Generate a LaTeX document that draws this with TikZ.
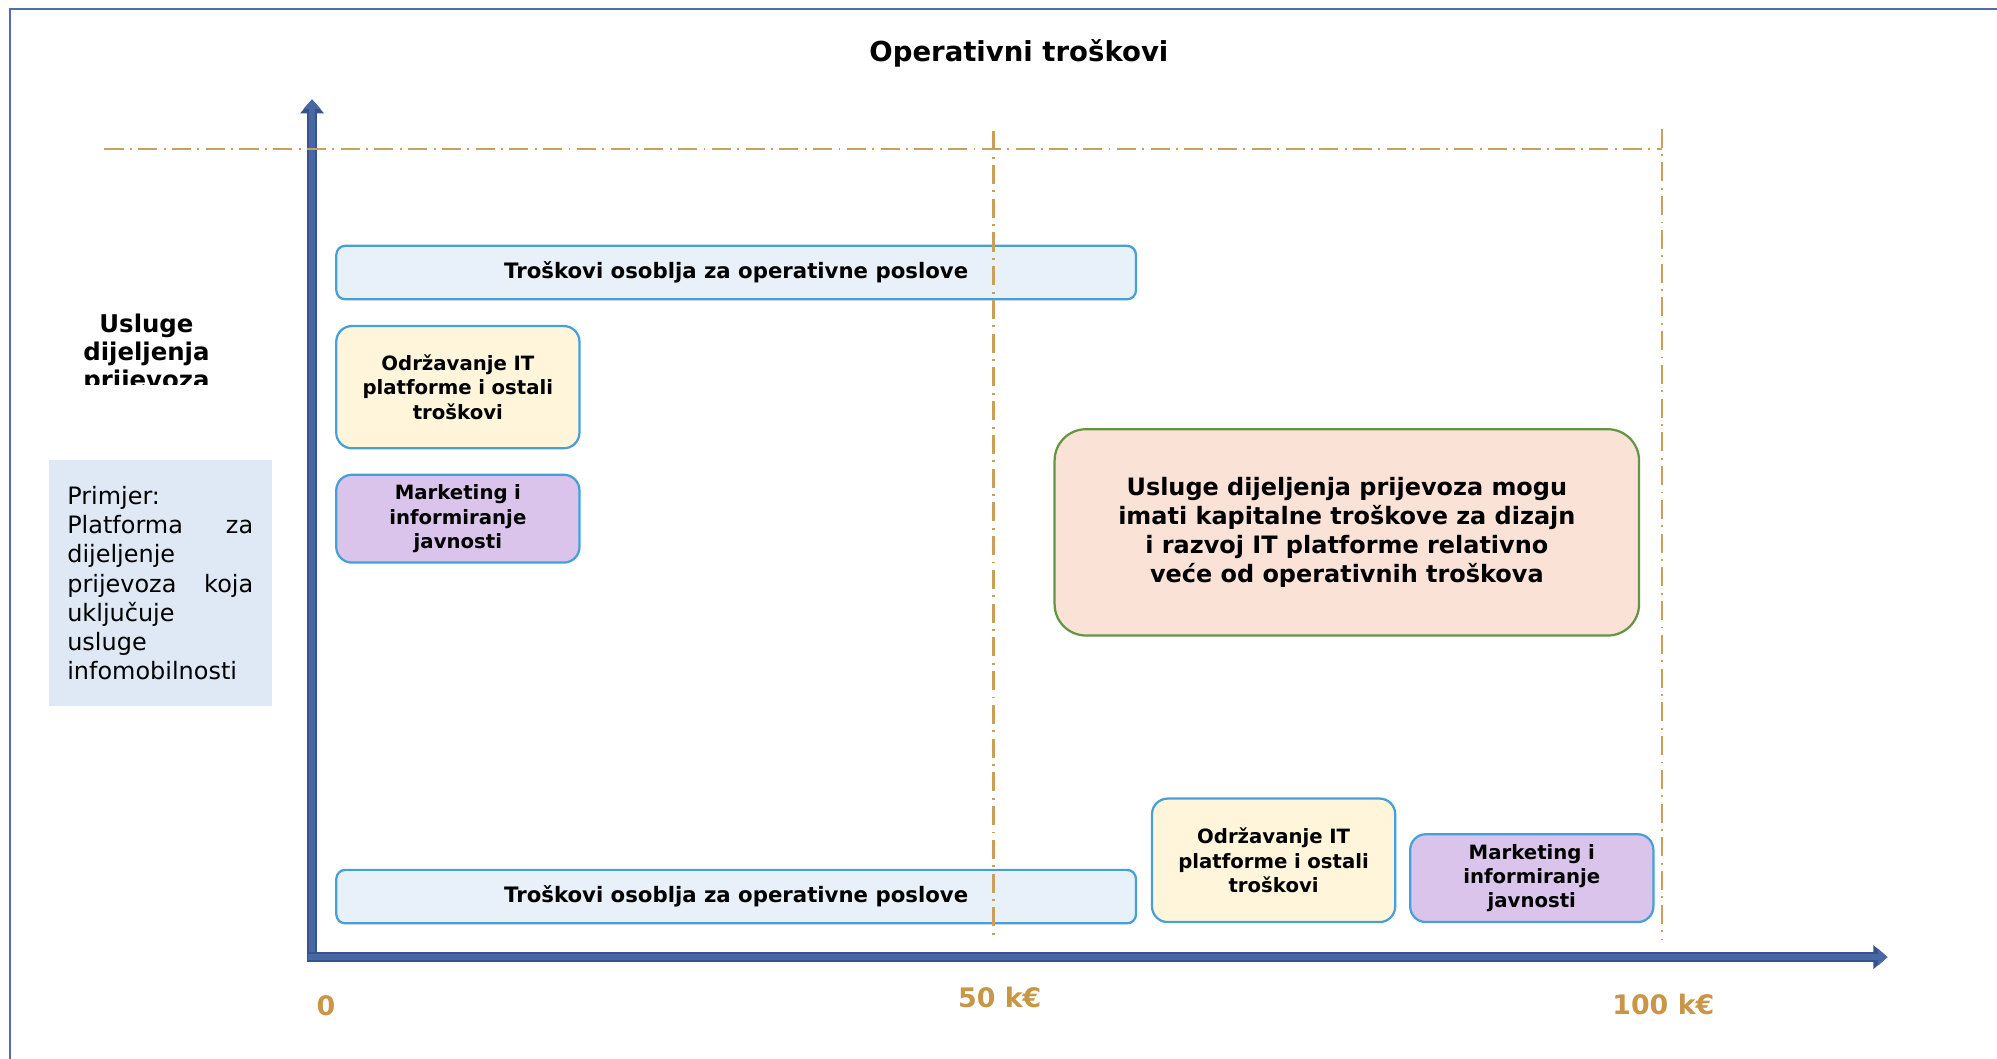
\documentclass[tikz,border=0pt]{standalone}
\usepackage{fontspec}
\setmainfont{DejaVu Sans}
\usepackage{xcolor}
\usepackage{tikz}
\usetikzlibrary{positioning,shapes,arrows.meta}
\definecolor{axisdark}{RGB}{55,82,140}
\definecolor{axisfill}{RGB}{72,104,165}
\definecolor{framecol}{RGB}{80,110,175}
\definecolor{guidetan}{RGB}{201,160,90}
\definecolor{boxblue}{RGB}{70,160,215}
\definecolor{barfill}{RGB}{232,240,250}
\definecolor{creamfill}{RGB}{255,245,218}
\definecolor{mauvefill}{RGB}{218,196,236}
\definecolor{peachfill}{RGB}{250,227,214}
\definecolor{leafgreen}{RGB}{100,150,65}
\definecolor{examplefill}{RGB}{222,233,245}
\definecolor{goldlabel}{RGB}{200,150,70}

\begin{document}
\begin{tikzpicture}[x=0.02cm, y=-0.02cm]
    \tikzstyle{costbar} = [rectangle, rounded corners=4pt, draw=boxblue, line width=1pt, fill=barfill, minimum width=12.56cm, minimum height=0.84cm, text centered, font=\fontsize{9.5}{11}\selectfont\bfseries]
    \tikzstyle{costbox} = [rectangle, rounded corners=7pt, draw=boxblue, line width=1pt, minimum width=3.82cm, text width=3.5cm, align=center, font=\fontsize{8.8}{10.8}\selectfont\bfseries]
    \tikzstyle{notebox} = [rectangle, rounded corners=14pt, draw=leafgreen, line width=1pt, fill=peachfill, minimum width=9.18cm, minimum height=3.24cm, align=center, font=\fontsize{10.7}{13.1}\selectfont\bfseries]
    \tikzstyle{examplebox} = [rectangle, fill=examplefill, minimum width=3.5cm, minimum height=3.86cm, text width=2.92cm, inner xsep=0.24cm, align=left, font=\fontsize{10.7}{13.1}\selectfont]
    \tikzstyle{ticklabel} = [text=goldlabel, font=\fontsize{12}{14}\selectfont\bfseries]
    \tikzstyle{guide} = [draw=guidetan, line width=1pt, dash pattern=on 0.3cm off 0.1cm on 0.03cm off 0.1cm]
    \tikzstyle{axis} = [draw=axisdark, line width=0.15cm, -{Triangle[width=0.36cm,length=0.22cm]}, postaction={draw=axisfill, line width=0.09cm, -{Triangle[width=0.26cm,length=0.15cm]}}]

    \useasboundingbox (0,0) rectangle (1568,831);
    \draw[framecol, line width=0.8pt] (8,7) rectangle (1640,900);

    % title and row label
    \node[font=\fontsize{12.3}{14}\selectfont\bfseries] (title) at (800,42) {Operativni troškovi};
    \begin{scope}
        \clip (30,235) rectangle (200,302);
        \node[font=\fontsize{10.9}{12.5}\selectfont\bfseries, align=center] (service) at (115,278) {Usluge\\ dijeljenja\\ prijevoza};
    \end{scope}
    \node[examplebox, anchor=north west] (example) at (38,361) {Primjer:\\ Platforma \hfill za\\ dijeljenje\\ prijevoza \hfill koja\\ uključuje\\ usluge\\ infomobilnosti};

    % axes
    \coordinate (ybase) at (245,755);
    \coordinate (ytip) at (245,78);
    \coordinate (xbase) at (241.5,751.5);
    \coordinate (xtip) at (1482,751.5);
    \draw[axis] (ybase) -- (ytip);
    \draw[axis] (xbase) -- (xtip);

    % cost blocks, upper row
    \node[costbar] (stafftop) at (578,214) {Troškovi osoblja za operativne poslove};
    \node[costbox, fill=creamfill, minimum height=1.92cm] (ittop) at (359.5,304) {Održavanje IT\\ platforme i ostali\\ troškovi};
    \node[costbox, fill=mauvefill, minimum height=1.38cm, below=0.38cm of ittop] (mktop) {Marketing i\\ informiranje\\ javnosti};

    % cost blocks, lower row
    \node[costbar] (staffbot) at (578,704) {Troškovi osoblja za operativne poslove};
    \node[costbox, fill=creamfill, minimum height=1.94cm] (itbot) at (1000,675.5) {Održavanje IT\\ platforme i ostali\\ troškovi};
    \node[costbox, fill=mauvefill, minimum height=1.38cm, right=0.2cm of itbot.south east, anchor=south west] (mkbot) {Marketing i\\ informiranje\\ javnosti};

    \node[notebox] (note) at (1057.5,418) {Usluge dijeljenja prijevoza mogu\\ imati kapitalne troškove za dizajn\\ i razvoj IT platforme relativno\\ veće od operativnih troškova};

    % guide lines
    \coordinate (gleft) at (82,117);
    \coordinate (gright) at (1305,117);
    \coordinate (midtop) at (780,103);
    \coordinate (midbot) at (780,738);
    \coordinate (endtop) at (1305,101);
    \coordinate (endbot) at (1305,738);
    \draw[guide] (gleft) -- (gright);
    \draw[guide] (midtop) -- (midbot);
    \draw[guide] (endtop) -- (endbot);

    % scale labels
    \node[ticklabel] (zero) at (256,790) {0};
    \node[ticklabel] (fifty) at (785,783) {50 k€};
    \node[ticklabel] (hundred) at (1306,789) {100 k€};
\end{tikzpicture}
\end{document}
